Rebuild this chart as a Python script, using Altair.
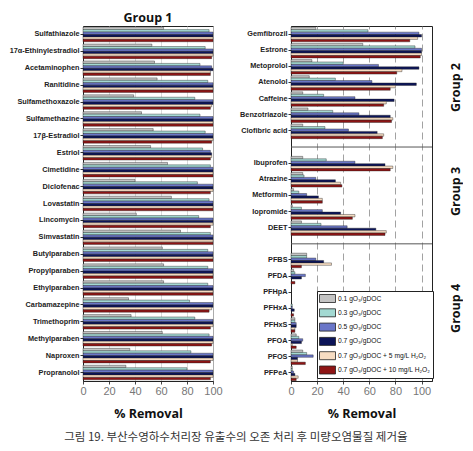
import altair as alt
import pandas as pd

SERIES = [
    "0.1 gO\u2083/gDOC",
    "0.3 gO\u2083/gDOC",
    "0.5 gO\u2083/gDOC",
    "0.7 gO\u2083/gDOC",
    "0.7 gO\u2083/gDOC + 5 mg/L H\u2082O\u2082",
    "0.7 gO\u2083/gDOC + 10 mg/L H\u2082O\u2082",
]
COLORS = ["#c4c4c4", "#a3d9d2", "#6a76c8", "#0c1458", "#f6dcc2", "#8e1414"]

# ---- Group 1 (left panel)
G1 = ["Sulfathiazole", "17\u03b1-Ethinylestradiol", "Acetaminophen", "Ranitidine",
      "Sulfamethoxazole", "Sulfamethazine", "17\u03b2-Estradiol", "Estriol", "Cimetidine",
      "Diclofenac", "Lovastatin", "Lincomycin", "Simvastatin", "Butylparaben",
      "Propylparaben", "Ethylparaben", "Carbamazepine", "Trimethoprim",
      "Methylparaben", "Naproxen", "Propranolol"]
g1_o01 = [62, 53, 55, 57, 39, 45, 54, 52, 65, 40, 68, 41, 75, 61, 62, 62, 35, 37, 61, 36, 33]
g1_o03 = [97, 94, 90, 96, 86, 90, 94, 92, 98, 88, 97, 89, 98, 96, 96, 96, 82, 86, 97, 83, 80]
g1_o05 = [100, 100, 99, 100, 100, 100, 100, 98, 100, 100, 100, 100, 100, 100, 100, 100, 100, 100, 100, 100, 100]
g1_o07 = [100, 100, 100, 100, 100, 100, 100, 99, 100, 100, 100, 100, 100, 100, 100, 100, 100, 100, 100, 100, 100]
g1_h5 = [100, 100, 98, 100, 99, 100, 100, 99, 100, 100, 100, 100, 100, 100, 100, 100, 99, 100, 100, 100, 100]
g1_h10 = [100, 99, 98, 100, 98, 100, 99, 98, 100, 98, 100, 98, 100, 100, 100, 100, 97, 98, 99, 98, 98]

# ---- Groups 2-4 (right panel)
G2 = ["Gemfibrozil", "Estrone", "Metoprolol", "Atenolol", "Caffeine", "Benzotriazole", "Clofibric acid"]
G3 = ["Ibuprofen", "Atrazine", "Metformin", "Iopromide", "DEET"]
G4 = ["PFBS", "PFDA", "PFHpA", "PFHxA", "PFHxS", "PFOA", "PFOS", "PFPeA"]
G234 = G2 + G3 + G4
g2_o01 = [19, 55, 16, 14, 9, 13, 9, 9, 9, 2, 1, 8, 12, 2, 0, 0, 3, 4, 9, 1]
g2_o03 = [59, 95, 40, 34, 25, 32, 26, 27, 10, 6, 8, 23, 12, 3, 0, 1, 3, 6, 12, 1]
g2_o05 = [98, 100, 67, 62, 49, 52, 44, 49, 19, 12, 24, 43, 19, 11, 0, 1, 4, 9, 17, 2]
g2_o07 = [100, 100, 98, 96, 79, 76, 66, 72, 34, 21, 38, 65, 25, 8, 0, 2.5, 4, 8, 5, 3]
g2_h5 = [97, 100, 85, 80, 73, 78, 71, 78, 38, 24, 49, 73, 31, 0, 0, 0, 3, 1, 5, 5.5]
g2_h10 = [91, 99, 81, 76, 71, 77, 70, 76, 39, 24, 47, 72, 8, 3, 0, 2, 3, 4, 11, 4]

GAP1, GAP2 = " ", "  "
RIGHT_DOMAIN = G2 + [GAP1] + G3 + [GAP2] + G4

GROUP_LABELS = ["Group 2", "Group 3", "Group 4"]
GROUP_ROWS = ["Atenolol", "Metformin", "PFHxA"]
GROUP_SHIFT = [-5, 4, 0]


def frame(names, cols):
    rows = []
    for i, name in enumerate(names):
        for s, col in zip(SERIES, cols):
            if col[i] > 0:
                rows.append({"compound": name, "series": s, "value": col[i]})
    return pd.DataFrame(rows)


df1 = frame(G1, [g1_o01, g1_o03, g1_o05, g1_o07, g1_h5, g1_h10])
df2 = frame(G234, [g2_o01, g2_o03, g2_o05, g2_o07, g2_h5, g2_h10])

LBL = dict(labelFont="Liberation Sans", labelFontSize=7.3, labelFontWeight="bold",
           labelColor="#222", tickSize=3, tickColor="#333", domainColor="#222",
           labelPadding=1, title=None)
XAX = dict(values=[0, 20, 40, 60, 80, 100], title="% Removal", titleFont="Open Sans",
           titleFontSize=12.5, titleFontWeight="bold", titleColor="#111",
           labelFont="Liberation Sans", labelFontSize=11, labelColor="#777",
           labelFlush=False, tickSize=3, tickColor="#444", domainColor="#222",
           labelPadding=1, titlePadding=11, grid=True)

color = alt.Color(
    "series:N",
    scale=alt.Scale(domain=SERIES, range=COLORS),
    title=None,
    legend=alt.Legend(
        orient="none", legendX=234, legendY=265,
        symbolType="M-1,-0.8H2.2V0.8H-1Z", symbolSize=100,
        symbolStrokeColor="#222", symbolStrokeWidth=0.8, symbolOpacity=1,
        labelFont="Liberation Sans", labelFontSize=6.7, labelColor="#111",
        labelOffset=8, labelLimit=200, rowPadding=1.3, padding=2,
        fillColor="#ffffff", strokeColor="#222",
    ),
)

left = alt.Chart(df1).mark_bar(stroke="#222", strokeWidth=0.4).encode(
    x=alt.X("value:Q", scale=alt.Scale(domain=[0, 100], nice=False),
            axis=alt.Axis(gridColor="#cfcfcf", gridWidth=0.8, **XAX)),
    y=alt.Y("compound:N", scale=alt.Scale(domain=G1, paddingInner=0.14, paddingOuter=0.07),
            axis=alt.Axis(**LBL)),
    yOffset=alt.YOffset("series:N", scale=alt.Scale(domain=SERIES)),
    color=color,
).properties(
    width=130, height=355,
    title=alt.TitleParams("Group 1", font="Open Sans", fontSize=12.5, fontWeight="bold",
                          color="#111", anchor="middle", offset=2),
)

yR = alt.Y("compound:N", scale=alt.Scale(domain=RIGHT_DOMAIN, paddingInner=0.16, paddingOuter=0.08),
           axis=alt.Axis(values=G234, **LBL))

bars_r = alt.Chart(df2).mark_bar(stroke="#222", strokeWidth=0.4).encode(
    x=alt.X("value:Q", scale=alt.Scale(domain=[0, 108], nice=False),
            axis=alt.Axis(gridColor="#8a8a8a", gridDash=[7, 4], gridWidth=0.8, **XAX)),
    y=yR,
    yOffset=alt.YOffset("series:N", scale=alt.Scale(domain=SERIES)),
    color=color,
)

seps = alt.Chart(pd.DataFrame({"compound": [GAP1, GAP2]})).mark_rule(
    color="#555", strokeWidth=1
).encode(y=alt.Y("compound:N"))

texts = []
for lab, row, sh in zip(GROUP_LABELS, GROUP_ROWS, GROUP_SHIFT):
    texts.append(
        alt.Chart(pd.DataFrame({"compound": [row], "label": [lab]})).mark_text(
            angle=270, font="Open Sans", fontSize=12.5, fontWeight="bold",
            color="#111", dx=sh, align="center", baseline="middle"
        ).encode(y=alt.Y("compound:N"), x=alt.value(165), text="label:N")
    )

right = alt.layer(bars_r, seps, *texts).properties(width=141, height=355)

chart = alt.hconcat(left, right, spacing=78, bounds="flush").properties(
    padding={"top": 3, "left": 0, "right": 0, "bottom": 0},
    title=alt.TitleParams(
        "\uadf8\ub9bc 19. \ubd80\uc0b0\uc218\uc601\ud558\uc218\ucc98\ub9ac\uc7a5 \uc720\ucd9c\uc218\uc758 \uc624\uc874 \ucc98\ub9ac \ud6c4 \ubbf8\ub7c9\uc624\uc5fc\ubb3c\uc9c8 \uc81c\uac70\uc728",
        orient="bottom", anchor="middle", frame="bounds", font="Noto Sans CJK KR",
        fontSize=11.5, fontWeight="normal", color="#333", offset=12,
    ),
).configure_view(stroke="#222", strokeWidth=1)

chart.save("out.html", embed_options={"renderer": "svg", "actions": False})
